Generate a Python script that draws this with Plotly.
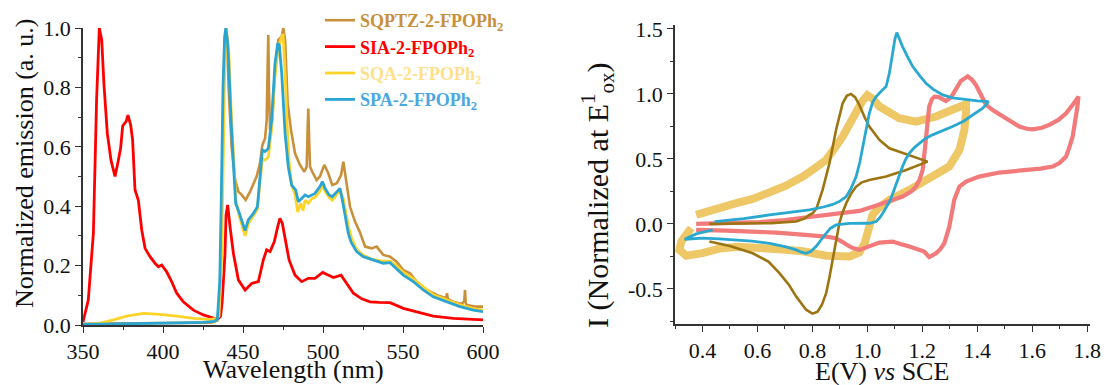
import plotly.graph_objects as go

# ---------------- Emission spectra (wavelength nm, normalized emission) ----------------
sqptz_em = [(350,0.004),(380,0.005),(410,0.006),(430,0.008),(434,0.015),(435.5,0.1),(436.5,0.35),
            (437.5,0.7),(438.5,0.93),(439.3,1.0),(440,0.96),(441,0.8),(442.9,0.6),(445,0.49),(447.1,0.449),
            (449.2,0.438),(451.7,0.421),(454.4,0.449),(456.5,0.477),(458.5,0.5),(460.6,0.544),(462.1,0.606),
            (463.8,0.628),(464.8,0.69),(465.5,0.9),(465.8,0.976),(466.2,0.8),(466.9,0.657),(468.3,0.69),
            (470,0.859),(472.1,0.96),(474.2,0.971),(475.2,1.0),(476.3,0.96),(477.9,0.746),(480,0.657),
            (482.5,0.578),(485.6,0.539),(488.3,0.516),(489.8,0.533),(490.5,0.68),(490.8,0.729),(491.2,0.65),
            (491.9,0.533),(493.3,0.516),(496,0.488),(498.1,0.5),(500.8,0.539),(503.3,0.511),(505.8,0.471),
            (508.6,0.477),(511.3,0.505),(512.7,0.55),(514.2,0.5),(516.9,0.398),(520,0.348),(523.1,0.312),
            (526.3,0.264),(530.4,0.258),(533.5,0.264),(537.7,0.236),(541.9,0.23),(546,0.213),(550.2,0.185),
            (554.4,0.174),(558.5,0.146),(564.8,0.118),(571,0.101),(577,0.09),(577.5,0.107),(578,0.088),
            (581.5,0.078),(586.7,0.071),(588.3,0.08),(588.75,0.118),(589.2,0.075),(589.8,0.067),(595,0.062),
            (600,0.062)]

sia_em = [(350,0.01),(353.3,0.084),(356.5,0.31),(358.5,0.76),(360.2,1.0),(361.7,0.96),(363.1,0.81),
          (365.2,0.645),(367.5,0.555),(370,0.50),(372.1,0.555),(373.5,0.595),(374.8,0.67),(376.9,0.685),
          (378.1,0.707),(379.8,0.673),(381,0.623),(382.5,0.455),(384.6,0.42),(386.7,0.32),(388.8,0.258),
          (391.9,0.23),(395,0.208),(397.1,0.196),(399.2,0.202),(402.3,0.179),(405.4,0.146),(408.6,0.107),
          (412.7,0.078),(419,0.05),(425.2,0.034),(431.5,0.023),(434.6,0.022),(436,0.03),(437,0.08),
          (438,0.16),(438.75,0.24),(439.4,0.37),(440.4,0.404),(441.9,0.331),(444,0.241),(447.1,0.152),
          (451.3,0.118),(455.4,0.14),(459.6,0.146),(462.7,0.219),(464.8,0.253),(466.9,0.247),(469.6,0.281),
          (471.7,0.331),(473.1,0.359),(474.6,0.342),(476.3,0.286),(478.8,0.219),(482.5,0.168),(486.7,0.146),
          (490.8,0.157),(495,0.157),(499.8,0.177),(503.3,0.168),(506.5,0.16),(511.3,0.168),(514.8,0.14),
          (519,0.107),(524.2,0.088),(529.4,0.078),(535,0.076),(541.9,0.075),(550.2,0.056),(558.5,0.045),
          (568.9,0.03),(581.5,0.022),(594,0.019),(600,0.017)]

sqa_em = [(350,0.0),(360.6,0.006),(369,0.017),(377.3,0.03),(387.7,0.039),(398,0.036),(408.6,0.03),
          (419,0.022),(429.4,0.019),(433.5,0.022),(435,0.03),(436.5,0.2),(437.5,0.5),(438.5,0.85),
          (439.5,1.0),(440.3,0.97),(441,0.93),(442.8,0.7),(444.3,0.52),(445.6,0.42),(447.5,0.37),
          (449.6,0.33),(451.3,0.3),(453.3,0.34),(456.5,0.37),(459,0.39),(460.6,0.48),(462.1,0.56),
          (463.8,0.555),(465.8,0.565),(467.9,0.66),(470,0.84),(472,0.93),(473.5,0.96),(475,0.98),
          (476.3,0.85),(477.5,0.68),(478.8,0.55),(480.4,0.47),(482.5,0.44),(484.2,0.38),(486,0.41),
          (487.5,0.385),(488.8,0.42),(490.8,0.41),(492.9,0.425),(495,0.43),(498.1,0.45),(499.6,0.47),
          (501.3,0.45),(503.8,0.43),(505.8,0.42),(508.6,0.44),(510.6,0.45),(512.5,0.43),(514.2,0.38),
          (516,0.33),(518,0.29),(521,0.255),(525.2,0.235),(531.4,0.22),(537.7,0.215),(541.9,0.215),
          (546,0.2),(550.2,0.178),(556.5,0.155),(562.7,0.127),(568.9,0.102),(577.3,0.085),(585.6,0.068),
          (594,0.055),(600,0.05)]

spa_em = [(350,0.002),(370,0.003),(390,0.005),(410,0.007),(425,0.009),(432,0.012),(434,0.02),
          (435.5,0.15),(436.5,0.45),(437.5,0.8),(438.5,0.97),(439.3,1.0),(440.2,0.96),(440.8,0.915),
          (442.5,0.69),(444,0.52),(445.4,0.41),(447.5,0.38),(449.6,0.342),(451.3,0.318),(453.3,0.354),
          (456.5,0.376),(459,0.398),(460.6,0.5),(462.1,0.589),(463.8,0.584),(465.8,0.594),(467.9,0.69),
          (470,0.88),(471.7,0.948),(472.7,0.943),(474.2,0.847),(476.3,0.645),(478.3,0.533),(480.4,0.471),
          (482.9,0.455),(484.6,0.415),(486.7,0.426),(488.8,0.438),(490.8,0.432),(492.9,0.438),(495,0.443),
          (498.1,0.466),(499.6,0.483),(501.3,0.46),(503.8,0.438),(505.8,0.432),(508.6,0.449),(510.6,0.46),
          (512.1,0.421),(513.8,0.37),(515.8,0.309),(517.5,0.28),(521,0.247),(525.2,0.23),(531.4,0.219),
          (537.7,0.208),(541.9,0.21),(546,0.19),(550.2,0.168),(556.5,0.146),(562.7,0.118),(568.9,0.095),
          (577.3,0.078),(585.6,0.062),(594,0.05),(600,0.045)]

# ---------------- Cyclic voltammograms (E vs SCE, normalized current) ----------------
cv_sqa = [(0.359,-0.033),(0.323,-0.136),(0.316,-0.2),(0.341,-0.245),(0.40,-0.225),(0.46,-0.19),
          (0.53,-0.175),(0.60,-0.18),(0.68,-0.195),(0.765,-0.21),(0.85,-0.245),(0.935,-0.25),(0.97,-0.22),
          (0.99,-0.15),(1.0,-0.07),(1.01,0.0),(1.019,0.07),(1.04,0.12),(1.08,0.185),(1.153,0.262),
          (1.237,0.364),(1.298,0.441),(1.335,0.569),(1.353,0.723),(1.359,0.86),(1.359,0.92),(1.322,0.89),
          (1.25,0.826),(1.177,0.787),(1.116,0.813),(1.07,0.87),(1.044,0.903),(1.02,0.96),(1.0,0.99),
          (0.98,0.94),(0.959,0.851),(0.935,0.76),(0.91,0.672),(0.88,0.58),(0.85,0.492),(0.81,0.43),
          (0.765,0.364),(0.70,0.29),(0.644,0.236),(0.58,0.19),(0.523,0.159),(0.45,0.11),(0.377,0.069)]

cv_sia = [(0.377,0.0),(0.5,0.008),(0.607,0.013),(0.7,0.03),(0.789,0.051),(0.85,0.068),(0.91,0.087),
          (0.971,0.1),(1.03,0.14),(1.08,0.18),(1.128,0.21),(1.16,0.25),(1.177,0.287),(1.19,0.34),
          (1.201,0.415),(1.207,0.53),(1.213,0.672),(1.219,0.8),(1.225,0.903),(1.235,0.96),(1.244,0.979),
          (1.26,0.975),(1.286,0.945),(1.305,0.975),(1.322,1.03),(1.34,1.1),(1.365,1.135),(1.38,1.11),
          (1.395,1.069),(1.432,0.915),(1.46,0.87),(1.492,0.826),(1.525,0.785),(1.553,0.749),(1.58,0.732),
          (1.601,0.728),(1.635,0.74),(1.662,0.762),(1.695,0.8),(1.723,0.851),(1.745,0.91),(1.765,0.967),
          (1.768,0.979),(1.764,0.9),(1.756,0.78),(1.747,0.672),(1.735,0.59),(1.723,0.518),(1.70,0.47),
          (1.674,0.441),(1.63,0.425),(1.577,0.415),(1.53,0.405),(1.48,0.395),(1.407,0.364),(1.359,0.326),
          (1.335,0.287),(1.316,0.185),(1.307,0.08),(1.298,-0.021),(1.28,-0.149),(1.265,-0.195),
          (1.25,-0.226),(1.225,-0.256),(1.207,-0.213),(1.18,-0.19),(1.153,-0.174),(1.12,-0.155),
          (1.092,-0.136),(1.044,-0.144),(1.007,-0.174),(0.971,-0.2),(0.95,-0.188),(0.935,-0.174),
          (0.91,-0.14),(0.886,-0.11),(0.85,-0.098),(0.813,-0.09),(0.74,-0.078),(0.668,-0.067),
          (0.58,-0.058),(0.486,-0.051),(0.377,-0.046)]

cv_sqptz = [(0.425,-0.136),(0.5,-0.17),(0.583,-0.226),(0.64,-0.29),(0.68,-0.379),(0.715,-0.47),
            (0.741,-0.559),(0.777,-0.66),(0.80,-0.69),(0.819,-0.675),(0.835,-0.62),(0.85,-0.533),
            (0.862,-0.41),(0.874,-0.277),(0.886,-0.13),(0.898,0.005),(0.91,0.09),(0.923,0.159),
            (0.94,0.23),(0.959,0.287),(0.98,0.32),(1.007,0.338),(1.068,0.364),(1.141,0.415),(1.219,0.479),
            (1.165,0.518),(1.13,0.54),(1.08,0.582),(1.044,0.646),(1.007,0.749),(0.99,0.82),(0.971,0.915),
            (0.955,0.975),(0.94,1.0),(0.925,0.985),(0.91,0.928),(0.886,0.723),(0.862,0.467),(0.837,0.262),
            (0.815,0.12),(0.801,0.082),(0.789,0.069),(0.77,0.04),(0.741,0.018),(0.65,0.006),(0.55,0.002),
            (0.425,0.0)]

cv_spa = [(0.444,0.018),(0.55,0.04),(0.644,0.069),(0.72,0.088),(0.789,0.108),(0.84,0.13),(0.874,0.15),
          (0.90,0.175),(0.923,0.21),(0.94,0.27),(0.959,0.364),(0.972,0.47),(0.983,0.595),(0.995,0.73),
          (1.007,0.851),(1.02,0.94),(1.032,0.979),(1.05,1.02),(1.068,1.056),(1.08,1.159),(1.092,1.313),
          (1.1,1.42),(1.107,1.472),(1.115,1.43),(1.128,1.364),(1.145,1.29),(1.165,1.21),(1.19,1.14),
          (1.213,1.082),(1.24,1.035),(1.274,0.992),(1.31,0.97),(1.359,0.954),(1.40,0.946),(1.441,0.941),
          (1.42,0.89),(1.383,0.838),(1.35,0.79),(1.31,0.749),(1.27,0.715),(1.237,0.685),(1.21,0.655),
          (1.189,0.621),(1.17,0.585),(1.153,0.544),(1.14,0.5),(1.128,0.441),(1.116,0.37),(1.104,0.287),
          (1.09,0.22),(1.08,0.17),(1.068,0.12),(1.056,0.082),(1.044,0.045),(1.032,0.018),(1.007,0.005),
          (0.971,0.003),(0.935,0.004),(0.886,-0.008),(0.865,-0.035),(0.85,-0.072),(0.83,-0.13),
          (0.813,-0.174),(0.795,-0.21),(0.777,-0.226),(0.76,-0.218),(0.741,-0.2),(0.70,-0.175),
          (0.644,-0.149),(0.58,-0.133),(0.523,-0.123),(0.46,-0.115),(0.401,-0.11),(0.335,-0.118),
          (0.377,-0.077),(0.437,-0.046)]

series_names = ["SQPTZ-2-FPOPh<sub>2</sub>", "SIA-2-FPOPh<sub>2</sub>",
                "SQA-2-FPOPh<sub>2</sub>", "SPA-2-FPOPh<sub>2</sub>"]

left_yticks = [0.0, 0.2, 0.4, 0.6, 0.8, 1.0]
left_xticks = [350, 400, 450, 500, 550, 600]
right_yticks = [-0.5, 0.0, 0.5, 1.0, 1.5]
right_xticks = [0.4, 0.6, 0.8, 1.0, 1.2, 1.4, 1.6, 1.8]

# ---------------- styling / layout helpers ----------------
W, H = 1106, 385
def fx(px):
    return px / W
def fy(py):
    return 1 - py / H

FONT = "Liberation Serif"
spec_line_colors = ["#C8903A", "#FF0000", "#FFD42A", "#2AA5D2"]
legend_text_colors = ["#C8903A", "#FF0000", "#FFE08A", "#4AA8E0"]
cv_colors = {"sqa": "#EEC767", "sia": "#F27A7A", "sqptz": "#9C7412", "spa": "#2AA8D0"}

fig = go.Figure()

spectra = [sqptz_em, sia_em, sqa_em, spa_em]
widths = [2.6, 2.8, 2.8, 2.8]
for i, data in enumerate(spectra):
    fig.add_trace(go.Scatter(
        x=[p[0] for p in data], y=[p[1] for p in data], mode="lines",
        line=dict(color=spec_line_colors[i], width=widths[i]),
        name='<span style="color:%s"><b>%s</b></span>' % (legend_text_colors[i], series_names[i]),
        legendgroup="g%d" % i, xaxis="x", yaxis="y"))

cvs = [(cv_sqa, cv_colors["sqa"], 8), (cv_sia, cv_colors["sia"], 4.2),
       (cv_sqptz, cv_colors["sqptz"], 2.6), (cv_spa, cv_colors["spa"], 2.8)]
for data, col, w in cvs:
    fig.add_trace(go.Scatter(
        x=[p[0] for p in data], y=[p[1] for p in data], mode="lines",
        line=dict(color=col, width=w), showlegend=False, xaxis="x2", yaxis="y2"))

axis_common = dict(showline=True, linecolor="#333333", linewidth=1.5, ticks="outside",
                   ticklen=6, tickwidth=1.4, tickcolor="#333333", showgrid=False, zeroline=False,
                   automargin=False, ticklabeloverflow="allow",
                   tickfont=dict(family=FONT, size=22, color="#111111"))
minor_common = dict(ticks="outside", ticklen=3.5, tickwidth=1.2, tickcolor="#333333", tickmode="linear")

def title_ann(text, px, py, size, angle=0):
    return dict(text=text, xref="paper", yref="paper", x=fx(px), y=fy(py),
                xanchor="center", yanchor="middle", textangle=angle, showarrow=False,
                font=dict(family=FONT, size=size, color="#111111"))

fig.update_layout(
    width=W, height=H, margin=dict(l=0, r=0, t=0, b=0, autoexpand=False),
    paper_bgcolor="white", plot_bgcolor="white",
    font=dict(family=FONT, color="#111111"),
    xaxis=dict(domain=[fx(83), fx(483)], range=[350, 600], anchor="y",
               tickvals=left_xticks, ticktext=[str(v) for v in left_xticks],
               minor=dict(tick0=350, dtick=25, **minor_common), **axis_common),
    yaxis=dict(domain=[fy(325), fy(28)], range=[0, 1.0], anchor="x",
               tickvals=left_yticks, ticktext=["%.1f" % v for v in left_yticks],
               minor=dict(tick0=0, dtick=0.1, **minor_common), **axis_common),
    xaxis2=dict(domain=[fx(675), fx(1090)], range=[0.3, 1.81], anchor="y2",
                tickvals=right_xticks, ticktext=["%.1f" % v for v in right_xticks],
                minor=dict(tick0=0.3, dtick=0.2, **minor_common), **axis_common),
    yaxis2=dict(domain=[fy(324), fy(25)], range=[-0.77, 1.53], anchor="x2",
                tickvals=right_yticks, ticktext=["%.1f" % v for v in right_yticks],
                minor=dict(tick0=-0.75, dtick=0.5, **minor_common), **axis_common),
    showlegend=True,
    legend=dict(x=fx(320), y=fy(2), xanchor="left", yanchor="top",
                bgcolor="rgba(0,0,0,0)", font=dict(family=FONT, size=18),
                tracegroupgap=4, traceorder="normal"),
    annotations=[
        title_ann("Normalized emission (a. u.)", 24, 163, 26, -90),
        title_ann("Wavelength (nm)", 294, 369, 26),
        title_ann("I (Normalized at E<sup>1</sup><sub>ox</sub>)", 598, 195, 30, -90),
        title_ann("E(V) <i>vs</i> SCE", 882, 371, 26),
    ],
)

# remove the default page margin so the figure fills the 1106x385 window exactly
fig.write_html("out.html", config={"displayModeBar": False},
               post_script="document.body.style.margin='0';document.body.style.overflow='hidden';")
